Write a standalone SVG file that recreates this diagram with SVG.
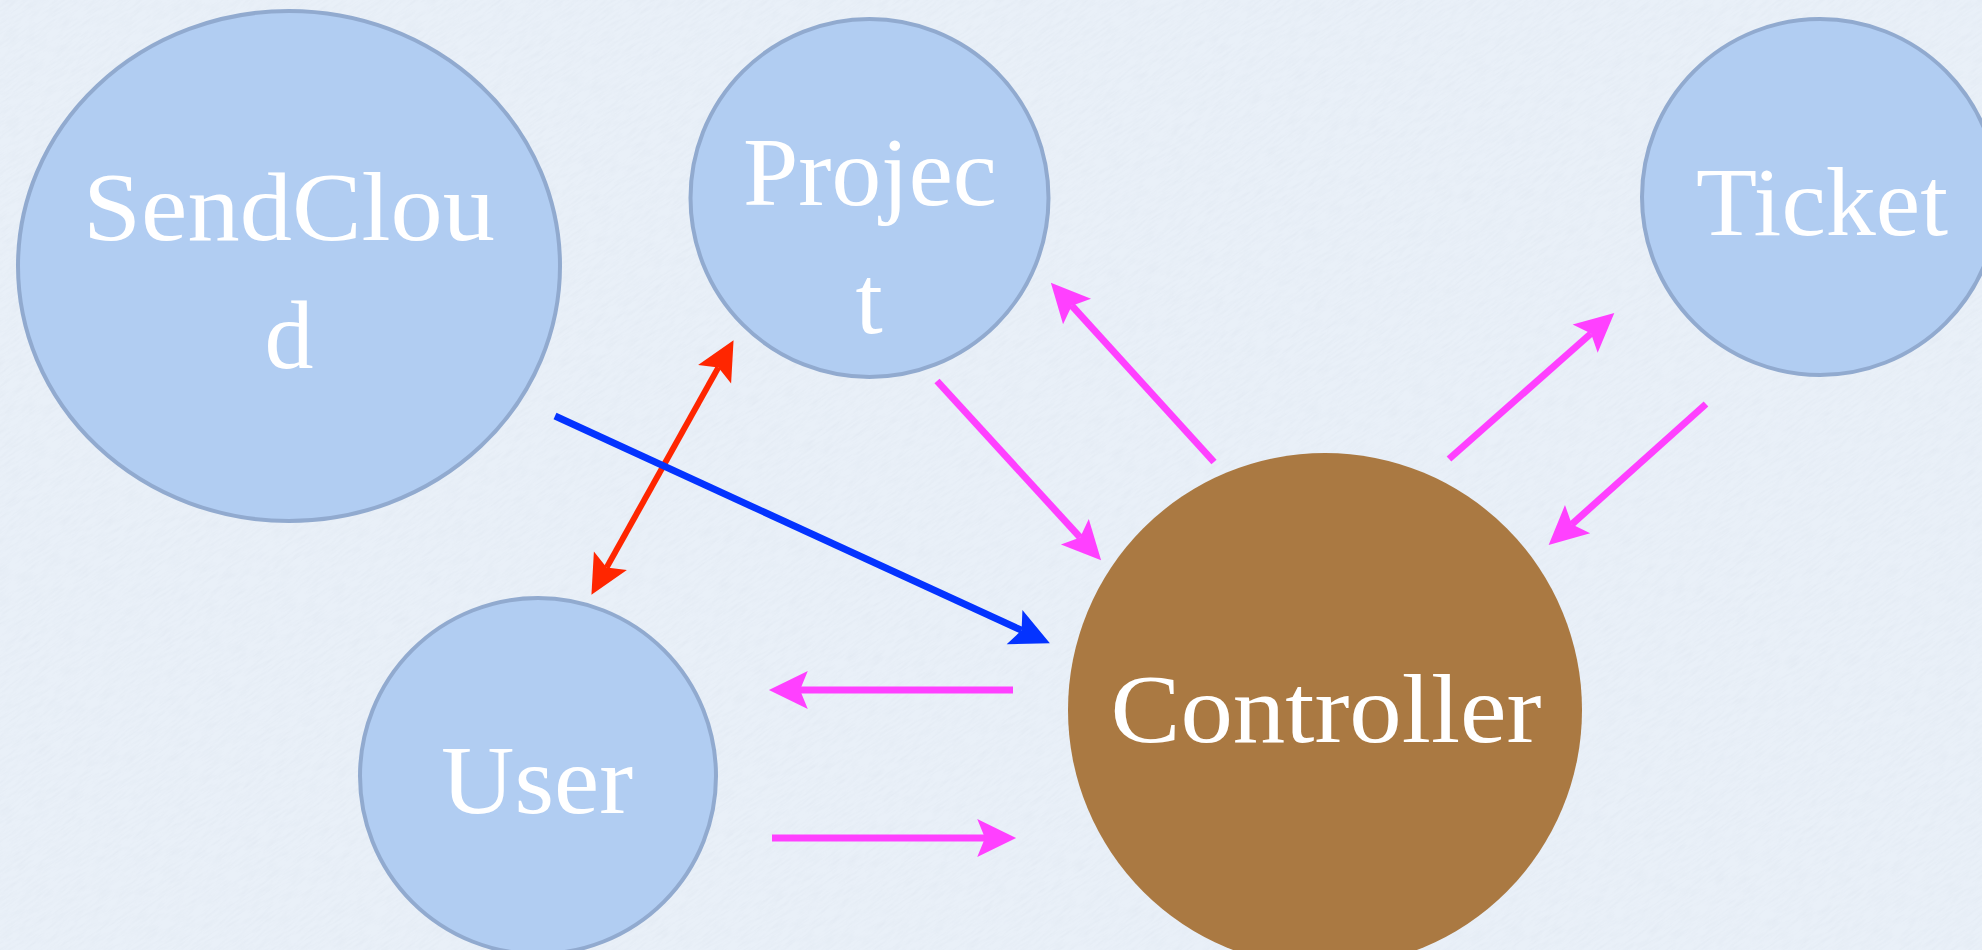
<svg xmlns="http://www.w3.org/2000/svg" width="1982" height="950" viewBox="0 0 1982 950">
  <style>
    .bg { fill: #e9f0f8; }
    .node { fill: #b1cdf2; stroke: #91aacf; stroke-width: 4; }
    .ctrl { fill: #aa7942; }
    .label { font-family: "Liberation Serif", "Times New Roman", serif; font-size: 98px; fill: #ffffff; text-anchor: middle; }
    .pink { stroke: #ff40ff; stroke-width: 7; fill: none; marker-end: url(#ahPink); }
    .blue { stroke: #0433ff; stroke-width: 7; fill: none; marker-end: url(#ahBlue); }
    .red { stroke: #ff2600; stroke-width: 6; fill: none; marker-start: url(#ahRed); marker-end: url(#ahRed); }
  </style>
  <defs>
    <clipPath id="canvas"><rect x="0" y="0" width="1982" height="950"/></clipPath>
    <filter id="paper" x="0" y="0" width="100%" height="100%">
      <feTurbulence type="fractalNoise" baseFrequency="0.06 0.45" numOctaves="3" seed="4" result="n"/>
      <feColorMatrix in="n" type="matrix" values="0 0 0 0 0.55  0 0 0 0 0.6  0 0 0 0 0.7  0 0 0 -0.9 0.55"/>
    </filter>
    <marker id="ahPink" markerUnits="userSpaceOnUse" markerWidth="40" markerHeight="40" viewBox="0 -18 36 36" refX="7" refY="0" orient="auto-start-reverse" overflow="visible">
      <path d="M35,0 L0,-17 L7,0 L0,17 Z" fill="#ff40ff"/>
    </marker>
    <marker id="ahBlue" markerUnits="userSpaceOnUse" markerWidth="40" markerHeight="40" viewBox="0 -18 36 36" refX="7" refY="0" orient="auto-start-reverse" overflow="visible">
      <path d="M35,0 L0,-17 L7,0 L0,17 Z" fill="#0433ff"/>
    </marker>
    <marker id="ahRed" markerUnits="userSpaceOnUse" markerWidth="40" markerHeight="40" viewBox="0 -18 36 36" refX="7" refY="0" orient="auto-start-reverse" overflow="visible">
      <path d="M35,0 L0,-17 L7,0 L0,17 Z" fill="#ff2600"/>
    </marker>
  </defs>
  <rect class="bg" x="0" y="0" width="1982" height="950"/>
  <g clip-path="url(#canvas)">
    <rect x="-409" y="-925" width="2800" height="2800" filter="url(#paper)" opacity="0.3" transform="rotate(-35 991 475)"/>
  </g>

  <g id="node-sendcloud">
    <ellipse class="node" cx="289" cy="266" rx="271" ry="255"/>
    <text class="label" x="289" y="240" textLength="412" lengthAdjust="spacingAndGlyphs">SendClou</text>
    <text class="label" x="289" y="368">d</text>
  </g>
  <g id="node-project">
    <circle class="node" cx="869.5" cy="198" r="179"/>
    <text class="label" x="870" y="205" textLength="254" lengthAdjust="spacingAndGlyphs">Projec</text>
    <text class="label" x="869" y="333">t</text>
  </g>
  <g id="node-ticket">
    <circle class="node" cx="1820" cy="197" r="178"/>
    <text class="label" x="1822" y="235" textLength="252" lengthAdjust="spacingAndGlyphs">Ticket</text>
  </g>
  <g id="node-user">
    <circle class="node" cx="538" cy="776" r="178"/>
    <text class="label" x="537" y="813" textLength="192" lengthAdjust="spacingAndGlyphs">User</text>
  </g>
  <g id="node-controller">
    <circle class="ctrl" cx="1325" cy="710" r="257"/>
    <text class="label" x="1326" y="742" textLength="431" lengthAdjust="spacingAndGlyphs">Controller</text>
  </g>

  <g id="connectors">
    <line class="pink" x1="1013" y1="690" x2="800" y2="690"/>
    <line class="pink" x1="772" y1="838" x2="985" y2="838"/>
    <line class="red" x1="606.6" y1="567.6" x2="718.4" y2="367.4"/>
    <line class="blue" x1="555" y1="416" x2="1021.6" y2="630.3"/>
    <line class="pink" x1="937" y1="381" x2="1080.1" y2="537.4"/>
    <line class="pink" x1="1214" y1="462" x2="1071.8" y2="305.7"/>
    <line class="pink" x1="1449" y1="459" x2="1591" y2="333.5"/>
    <line class="pink" x1="1706" y1="404" x2="1571.8" y2="524.3"/>
  </g>
</svg>
